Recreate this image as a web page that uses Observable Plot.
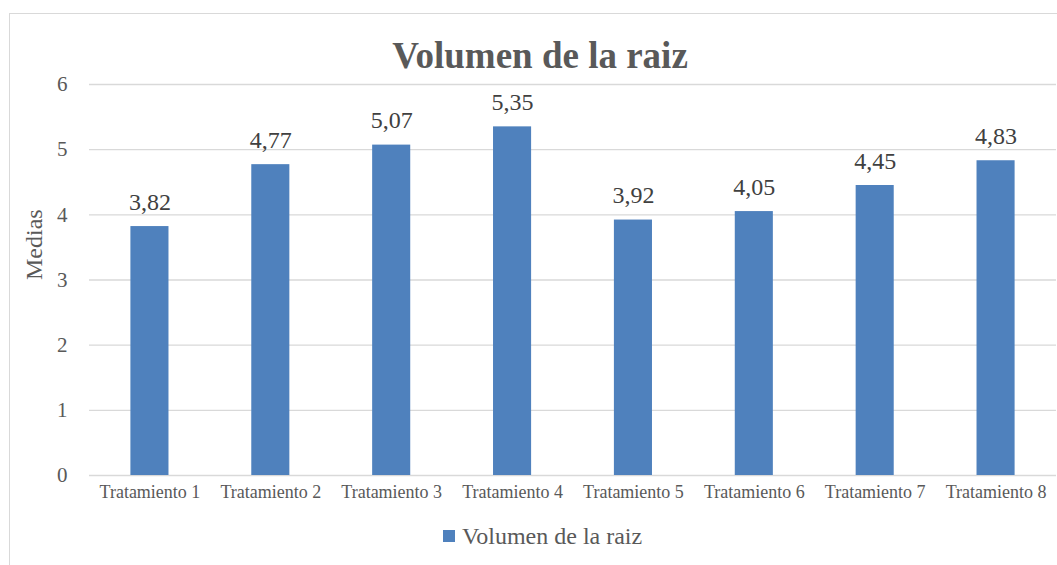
<!DOCTYPE html>
<html>
<head>
<meta charset="utf-8">
<script src="https://cdn.jsdelivr.net/npm/d3@7"></script>
<script src="https://cdn.jsdelivr.net/npm/@observablehq/plot@0.6"></script>
<style>
  html, body { margin: 0; padding: 0; background: #fff; }
  #wrap { position: relative; width: 1057px; height: 565px; overflow: hidden; font-family: "Liberation Serif", "Times New Roman", serif; }
  #border { position: absolute; left: 9px; top: 13px; width: 1100px; height: 600px; border: 1.5px solid #d9d9d9; box-sizing: border-box; }
  #title { position: absolute; left: 0; width: 1080px; top: 33.5px; text-align: center; font-size: 37px; font-weight: bold; color: #595959; line-height: 44px; }
  #legend { position: absolute; top: 522px; left: 443px; display: flex; align-items: center; font-size: 24px; color: #595959; line-height: 28px; }
  #legend .sw { width: 12px; height: 12px; background: #4f81bd; margin-right: 7px; }
  #chart { position: absolute; left: 0; top: 0; }
</style>
</head>
<body>
<div id="wrap">
  <div id="border"></div>
  <div id="chart"></div>
  <div id="title">Volumen de la raiz</div>
  <div id="legend"><div class="sw"></div><span>Volumen de la raiz</span></div>
</div>
<script>
const categories = ["Tratamiento 1", "Tratamiento 2", "Tratamiento 3", "Tratamiento 4", "Tratamiento 5", "Tratamiento 6", "Tratamiento 7", "Tratamiento 8"];
const values = [3.82, 4.77, 5.07, 5.35, 3.92, 4.05, 4.45, 4.83];
const yTicks = [0, 1, 2, 3, 4, 5, 6];

const data = categories.map((c, i) => ({ cat: c, v: values[i] }));
const fmt = d => d.toFixed(2).replace(".", ",");

const plot = Plot.plot({
  width: 1057,
  height: 565,
  marginLeft: 89,
  marginRight: 1,
  marginTop: 84,
  marginBottom: 90,
  style: { fontFamily: "'Liberation Serif', 'Times New Roman', serif", background: "transparent", color: "#595959" },
  x: { domain: categories, paddingInner: 0.685, paddingOuter: 0.3425, round: false, label: null },
  y: { domain: [0, 6], ticks: yTicks, label: null },
  marks: [
    Plot.gridY(yTicks, { stroke: "#d9d9d9", strokeOpacity: 1, strokeWidth: 1.4 }),
    Plot.barY(data, { x: "cat", y: "v", fill: "#4f81bd" }),
    Plot.axisY(yTicks, { tickSize: 0, tickPadding: 22, fontSize: 21, fill: "#595959", tickFormat: d => String(d), label: null }),
    Plot.axisX({ tickSize: 0, tickPadding: 10, fontSize: 18, fill: "#595959", label: null }),
    Plot.text(data, { x: "cat", y: "v", text: d => fmt(d.v), dy: -17, lineAnchor: "bottom", fontSize: 24, fill: "#404040" }),
    Plot.text(["Medias"], { frameAnchor: "left", dx: -55, rotate: -90, fontSize: 24, fill: "#595959" })
  ]
});
document.getElementById("chart").appendChild(plot);
</script>
</body>
</html>
